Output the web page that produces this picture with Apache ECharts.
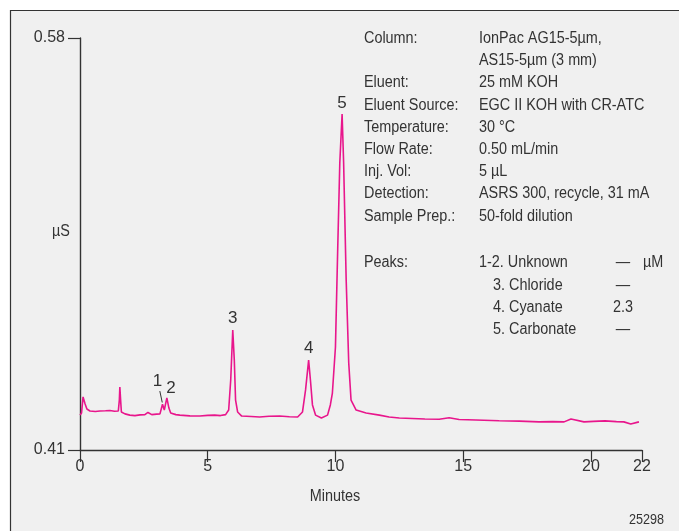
<!DOCTYPE html>
<html>
<head>
<meta charset="utf-8">
<script src="https://cdn.jsdelivr.net/npm/echarts@6/dist/echarts.min.js"></script>
<style>
  html, body { margin: 0; padding: 0; background: #fff; }
  #chart { width: 679px; height: 531px; }
</style>
</head>
<body>
<div id="chart"></div>
<script>
// trace: retention time (min) and conductivity (µS)
var times = [0, 0.06, 0.12, 0.20, 0.27, 0.39, 0.60, 0.78, 1.00, 1.17, 1.35, 1.50, 1.54, 1.56, 1.59, 1.62, 1.76, 1.95, 2.15, 2.35, 2.54, 2.66, 2.81,
  3.00, 3.13, 3.23, 3.30, 3.40, 3.48, 3.55, 3.75, 3.91, 4.30, 4.69, 5.00, 5.27, 5.50, 5.70, 5.82, 5.90, 5.98, 6.04, 6.09, 6.17, 6.33,
  6.70, 7.03, 7.40, 7.81, 8.20, 8.52, 8.71, 8.83, 8.95, 9.02, 9.10, 9.22, 9.45, 9.69, 9.80, 9.88, 10.00, 10.09, 10.17, 10.26,
  10.32, 10.42, 10.52, 10.61, 10.81, 11.20, 11.72, 12.10, 12.50, 13.00, 13.50, 14.06, 14.45, 14.84, 15.50, 16.41, 17.20, 17.97, 18.50, 18.95, 19.22,
  19.73, 20.10, 20.55, 21.00, 21.29, 21.56, 21.88];
var values = [0.4244, 0.4253, 0.4319, 0.4290, 0.4269, 0.4261, 0.4259, 0.4261, 0.4262, 0.4263, 0.4260, 0.4261, 0.4306, 0.4360, 0.4306, 0.4257,
  0.4249, 0.4244, 0.4242, 0.4245, 0.4246, 0.4255, 0.4246, 0.4248, 0.4249, 0.4289, 0.4265, 0.4315, 0.4273, 0.4253, 0.4246, 0.4244, 0.4241, 0.4240,
  0.4243, 0.4244, 0.4242, 0.4246, 0.4265, 0.4389, 0.4595, 0.4471, 0.4306, 0.4257, 0.4240, 0.4238, 0.4236, 0.4239, 0.4240, 0.4237, 0.4236, 0.4257,
  0.4348, 0.4471, 0.4389, 0.4286, 0.4244, 0.4232, 0.4244, 0.4286, 0.4335, 0.4525, 0.4938, 0.5284, 0.5486,
  0.5284, 0.4801, 0.4459, 0.4306, 0.4265, 0.4253, 0.4244, 0.4236, 0.4232, 0.4230, 0.4228, 0.4227, 0.4233, 0.4226, 0.4224, 0.4221, 0.4219, 0.4216,
  0.4217, 0.4216, 0.4228, 0.4216, 0.4218, 0.4220, 0.4217, 0.4216, 0.4207, 0.4216];

// peak labels
var peakNames = ['1', '2', '3', '4', '5'];
var peakTimes = [3.23, 3.40, 5.98, 8.95, 10.26];
var peakValues = [0.4289, 0.4315, 0.4595, 0.4471, 0.5486];
var peakOffsets = [[-5, -23], [4, -10], [0, -12], [0, -12], [0, -11]];

var xTicks = [0, 5, 10, 15, 20, 22];
var yTicks = [0.41, 0.58];

// conditions text
var condLabels = ['Column:', '', 'Eluent:', 'Eluent Source:', 'Temperature:', 'Flow Rate:', 'Inj. Vol:', 'Detection:', 'Sample Prep.:'];
var condValues = ['IonPac AG15-5µm,', 'AS15-5µm (3 mm)', '25 mM KOH', 'EGC II KOH with CR-ATC', '30 °C', '0.50 mL/min', '5 µL', 'ASRS 300, recycle, 31 mA', '50-fold dilution'];
var peakList = ['1-2. Unknown', '3. Chloride', '4. Cyanate', '5. Carbonate'];
var peakAmounts = ['—', '—', '2.3', '—'];

var FONT = "'Liberation Sans', Arial, sans-serif";
var TXT = '#333';
var SX = 0.9; // condensed look

var lineData = times.map(function (t, i) { return [t, values[i]]; });

function txt(x, y, s, size, align) {
  return { type: 'text', x: x, y: y, scaleX: SX,
    style: { text: s, font: size + 'px ' + FONT, fill: TXT, align: align || 'left', verticalAlign: 'middle' } };
}

var graphics = [
  { type: 'rect', z: -10, shape: { x: 10.5, y: 10.5, width: 720, height: 600 },
    style: { fill: '#f0f0f0', stroke: '#333', lineWidth: 1.2 } },
  txt(61, 232, 'µS', 16, 'center'),
  txt(335, 497, 'Minutes', 16, 'center'),
  txt(664, 520, '25298', 14, 'right')
];
condLabels.forEach(function (s, i) {
  var y = 38.5 + 22.2 * i;
  if (s) graphics.push(txt(364, y, s, 16));
  graphics.push(txt(479, y, condValues[i], 16));
});
graphics.push(txt(364, 263, 'Peaks:', 16));
peakList.forEach(function (s, i) {
  var y = 263 + 22.2 * i;
  graphics.push(txt(i === 0 ? 479 : 493, y, s, 16));
  graphics.push(txt(623, y, peakAmounts[i], 16, 'center'));
});
graphics.push(txt(643, 263, 'µM', 16));

var myChart = echarts.init(document.getElementById('chart'));
myChart.setOption({
  backgroundColor: '#fff',
  animation: false,
  graphic: graphics,
  grid: { left: 80, right: 37, top: 38, bottom: 81, containLabel: false },
  xAxis: {
    type: 'value',
    min: 0,
    max: 22,
    axisLine: { show: true, lineStyle: { color: '#333', width: 1.4 } },
    axisTick: { show: true, length: 12, customValues: xTicks, lineStyle: { color: '#333', width: 1.2 } },
    axisLabel: { customValues: xTicks, margin: 9, fontFamily: FONT, fontSize: 16, color: TXT },
    splitLine: { show: false }
  },
  yAxis: {
    type: 'value',
    min: 0.41,
    max: 0.58,
    axisLine: { show: true, onZero: false, lineStyle: { color: '#333', width: 1.4 } },
    axisTick: { show: true, length: 12, customValues: yTicks, lineStyle: { color: '#333', width: 1.2 } },
    axisLabel: { customValues: yTicks, margin: 15, fontFamily: FONT, fontSize: 16, color: TXT },
    splitLine: { show: false }
  },
  series: [{
    type: 'line',
    data: lineData,
    showSymbol: false,
    smooth: false,
    lineStyle: { color: '#e8168c', width: 1.6 },
    markPoint: {
      symbol: 'circle',
      symbolSize: 0,
      label: { show: true, position: 'inside', fontFamily: FONT, fontSize: 17, color: TXT },
      data: peakNames.map(function (n, i) {
        return { name: n, coord: [peakTimes[i], peakValues[i]], value: n,
          label: { offset: peakOffsets[i], formatter: '{b}' } };
      })
    },
    markLine: {
      silent: true,
      symbol: 'none',
      label: { show: false },
      lineStyle: { color: '#333', width: 1, type: 'solid' },
      data: [[{ coord: [3.125, 0.4343] }, { coord: [3.22, 0.4296] }]]
    }
  }]
});
</script>
</body>
</html>
